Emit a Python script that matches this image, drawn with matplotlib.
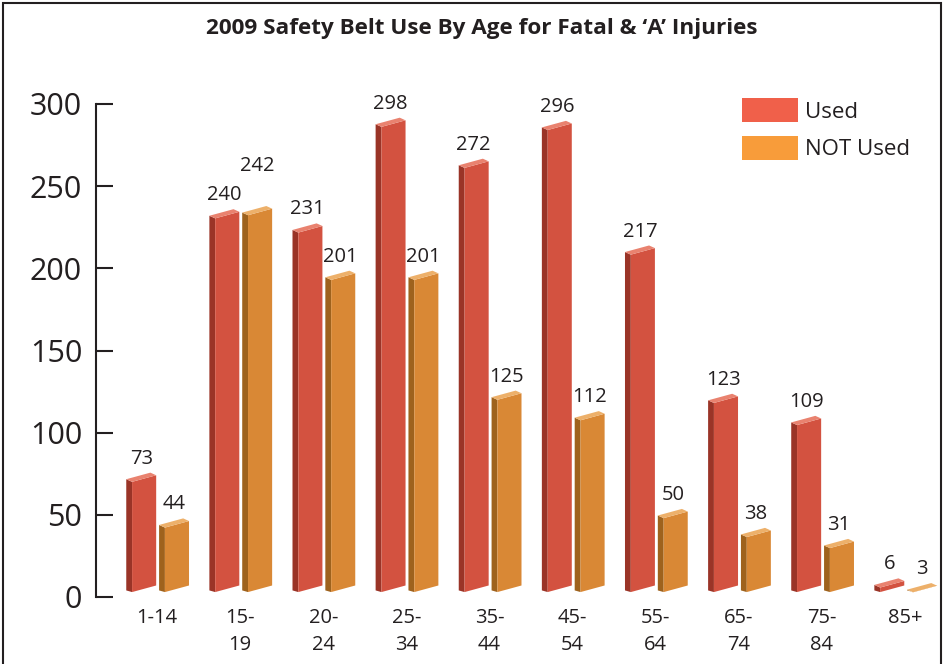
import matplotlib
matplotlib.use('Agg')
import matplotlib.pyplot as plt
from matplotlib.patches import Polygon, Patch, Rectangle

plt.rcParams['font.family'] = ['Open Sans', 'DejaVu Sans']

# Data
age_groups = ['1-14', '15-\n19', '20-\n24', '25-\n34', '35-\n44', '45-\n54',
              '55-\n64', '65-\n74', '75-\n84', '85+']
used = [73, 240, 231, 298, 272, 296, 217, 123, 109, 6]
not_used = [44, 242, 201, 201, 125, 112, 50, 38, 31, 3]

red_front, red_side, red_top = '#D35240', '#9A3427', '#E9826F'
org_front, org_side, org_top = '#D98835', '#9E621D', '#EDB06A'
TXT = '#231F20'

fig = plt.figure(figsize=(9.45, 6.64), dpi=100)
ax = fig.add_axes([96 / 945, 1 - 597 / 664, 849 / 945, 493 / 664])
ax.set_xlim(-0.734, 9.48)
ax.set_ylim(0, 300)

DEPTH = 0.96  # perspective shrink of the 3D bars


def draw_bar(left, h, front, side, top):
    # fake 3D bar: dark left side, slanted front face, thin light top
    d, w, s, b0, t = 0.07, 0.29, 4.0, 3.0, 1.6
    h = h * DEPTH
    ax.add_patch(Polygon([(left, b0 + 1), (left + d, b0), (left + d, h), (left, h + t)],
                         closed=True, color=side, lw=0, clip_on=False))
    ax.add_patch(Polygon([(left + d, b0), (left + d + w, b0 + s), (left + d + w, h + s), (left + d, h)],
                         closed=True, color=front, lw=0, clip_on=False))
    ax.add_patch(Polygon([(left, h + t), (left + d, h), (left + d + w, h + s), (left + w, h + s + t)],
                         closed=True, color=top, lw=0, clip_on=False))
    return h + s


for i, (u, n) in enumerate(zip(used, not_used)):
    top_u = draw_bar(i - 0.37, u, red_front, red_side, red_top)
    top_n = draw_bar(i + 0.025, n, org_front, org_side, org_top)
    # lift the orange label when both tall bars are about the same height
    lift = 16 if (abs(u - n) < 10 and n > 50) else 0
    ax.text(i - 0.19, top_u + 4, str(u), ha='center', va='bottom', fontsize=14.5, color=TXT)
    ax.text(i + 0.205, top_n + 4 + lift, str(n), ha='center', va='bottom', fontsize=14.5, color=TXT)

# axes styling
for side in ['top', 'right', 'bottom']:
    ax.spines[side].set_visible(False)
ax.spines['left'].set_color(TXT)
ax.spines['left'].set_linewidth(1.5)
ax.set_yticks([0, 50, 100, 150, 200, 250, 300])
ax.tick_params(axis='y', direction='in', length=12, width=1.5, color=TXT,
               labelsize=22, pad=10, labelcolor=TXT)
ax.set_xticks(range(len(age_groups)))
ax.set_xticklabels(age_groups, fontsize=14.5, linespacing=1.45, color=TXT)
ax.tick_params(axis='x', length=0, pad=8)

fig.text(0.51, 0.957, "2009 Safety Belt Use By Age for Fatal & \u2018A\u2019 Injuries",
         ha='center', va='center', fontsize=16.2, fontweight='bold', color=TXT)

handles = [Patch(facecolor='#F0604A', edgecolor='none', label='Used'),
           Patch(facecolor='#F89C3A', edgecolor='none', label='NOT Used')]
fig.legend(handles=handles, loc='upper left', bbox_to_anchor=(722 / 945, 1 - 78 / 664),
           frameon=False, fontsize=16, handlelength=2.5, handleheight=1.3,
           handletextpad=0.35, labelspacing=0.6, labelcolor=TXT)

# outer frame (open at bottom)
fig.add_artist(Rectangle((3 / 945, -0.1), 938 / 945, 1.1 - 3 / 664, transform=fig.transFigure,
                         fill=False, edgecolor=TXT, lw=1.5, clip_on=False))

fig.savefig('out.png', dpi=100)
